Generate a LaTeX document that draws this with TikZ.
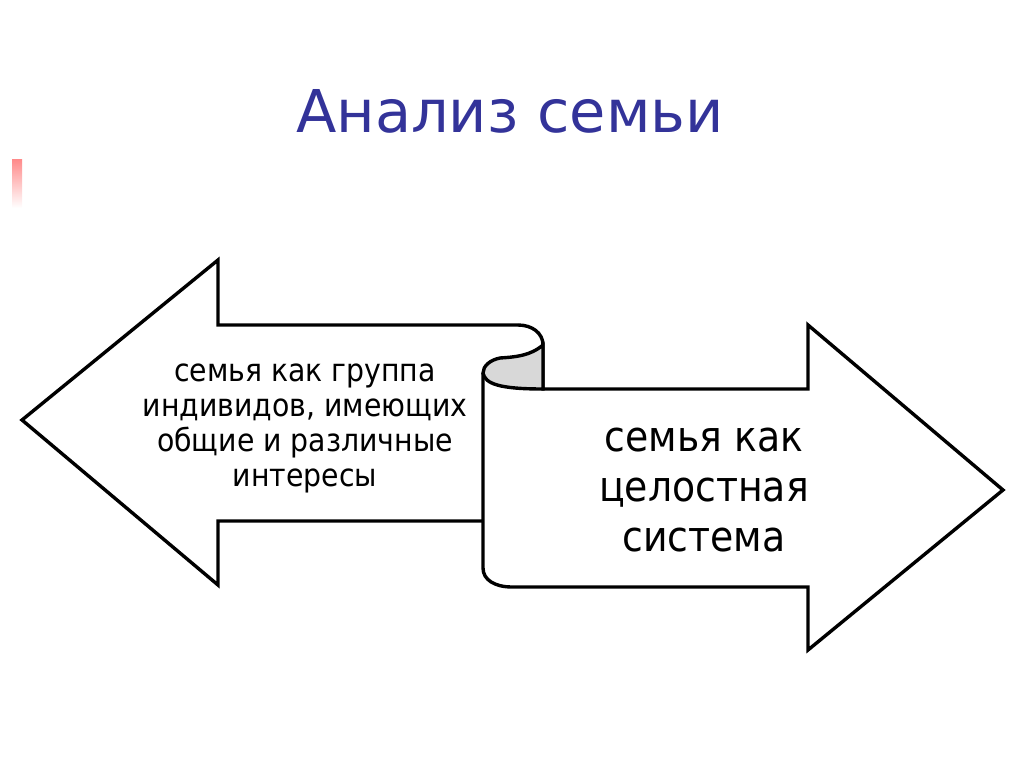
\documentclass[tikz,border=0pt]{standalone}
\usepackage{fontspec}
\setmainfont{DejaVu Sans}
\newfontfamily\condfont{DejaVu Sans Condensed}
\definecolor{titleblue}{RGB}{51,51,153}
\definecolor{curlgrey}{RGB}{216,216,216}

\begin{document}
\begin{tikzpicture}[
  x=1pt, y=-1pt,
  outline/.style={
    draw, line width=3.4pt, line join=miter
  },
  left_text/.style={
    align=center, font=\condfont\fontsize{31.5}{35}\selectfont
  },
  right_text/.style={
    align=center, font=\condfont\fontsize{42}{50}\selectfont
  }]
  \useasboundingbox (0,0) rectangle (1024,767);
  %
  \shade[top color=red!45, bottom color=white] (12,160) rectangle (22,208);
  \node[text=titleblue, font=\fontsize{59}{70}\selectfont, anchor=base]
    (title) at (510,133) {Анализ семьи};
  % left arrow
  \draw[outline] (518,325) -- (218,325) -- (218,260) -- (22,420)
    -- (218,585) -- (218,521) -- (483,521);
  % right arrow with curl
  \draw[outline] (483,373) -- (483,568) .. controls (483,580) and (495,587) .. (512,587)
    -- (808,587) -- (808,650) -- (1003,490) -- (808,325) -- (808,389)
    -- (543,389) -- (543,345) .. controls (543,333) and (532,325) .. (518,325);
  \draw[outline, fill=curlgrey] (543,345) .. controls (530,356) and (515,357) .. (500,358)
    .. controls (490,360) and (483,366) .. (483,373)
    .. controls (485,384) and (500,389) .. (543,389) -- cycle;
  %
  \node[left_text] (group) at (305,428)
    {семья как группа\\индивидов, имеющих\\общие и различные\\интересы};
  \node[right_text] (whole) at (704,490)
    {семья как\\целостная\\система};
\end{tikzpicture}
\end{document}
